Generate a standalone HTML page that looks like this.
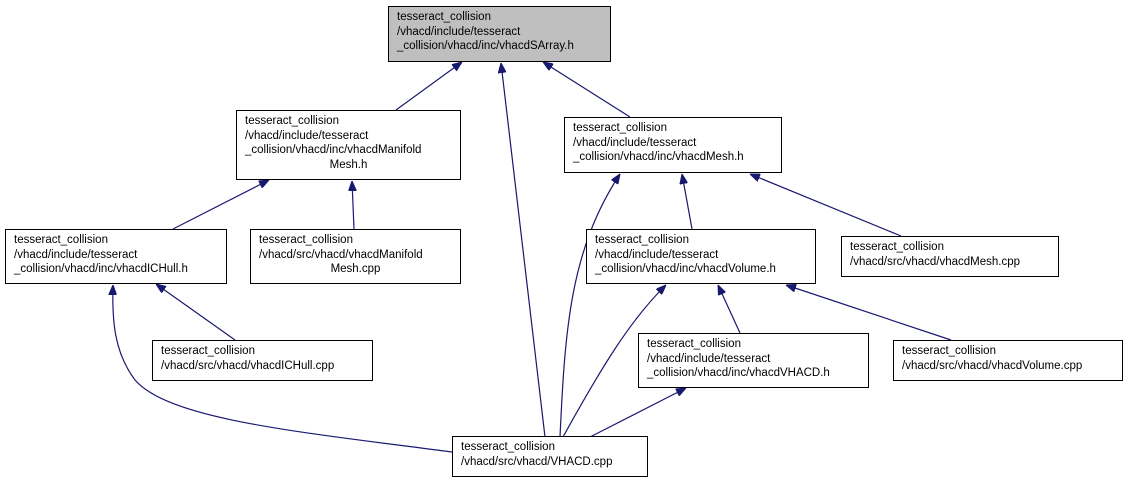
<!DOCTYPE html>
<html><head><meta charset="utf-8"><style>
body{margin:0;width:1128px;height:483px;background:#fff;position:relative;overflow:hidden;font-family:"Liberation Sans",Arial,sans-serif;}
.n{position:absolute;box-sizing:border-box;border:1px solid #000;background:#fff;font-size:11.5px;line-height:14.5px;padding:3px 0 0 8px;color:#000;white-space:nowrap;}
svg{position:absolute;left:0;top:0;}
</style></head><body>
<svg width="1128" height="483">
<defs><marker id="a" markerWidth="10" markerHeight="8" refX="10" refY="4" orient="auto" markerUnits="userSpaceOnUse"><path d="M0,0 L10,4 L0,8 z" fill="#191970" stroke="#191970"/></marker></defs>
<g fill="none" stroke="#191970" stroke-width="1.2" marker-end="url(#a)">
<path d="M396,110 L462,62"/>
<path d="M545,437 L501,63"/>
<path d="M630,117 L543,62"/>
<path d="M173,229 L269,180"/>
<path d="M354,229 L352,181"/>
<path d="M235,340 L156,284"/>
<path d="M452,452 C300,432 170,420 135,380 C114,352 112,320 113,285"/>
<path d="M560,437 C565,330 570,250 620,174"/>
<path d="M692,229 L682,174"/>
<path d="M901,236 L750,174"/>
<path d="M563,437 C600,370 630,320 666,285"/>
<path d="M740,333 L718,285"/>
<path d="M951,340 L786,285"/>
<path d="M590,437 L686,388"/>
</g>
</svg>
<div class="n" style="left:388px;top:6px;width:223px;height:56px;background:#bfbfbf;">tesseract_collision<br>/vhacd/include/tesseract<br>_collision/vhacd/inc/vhacdSArray.h</div>
<div class="n" style="left:236px;top:110px;width:225px;height:70px;">tesseract_collision<br>/vhacd/include/tesseract<br>_collision/vhacd/inc/vhacdManifold<br><span style="display:block;text-align:center;margin-left:-8px">Mesh.h</span></div>
<div class="n" style="left:564px;top:117px;width:218px;height:56px;">tesseract_collision<br>/vhacd/include/tesseract<br>_collision/vhacd/inc/vhacdMesh.h</div>
<div class="n" style="left:5px;top:229px;width:222px;height:55px;">tesseract_collision<br>/vhacd/include/tesseract<br>_collision/vhacd/inc/vhacdICHull.h</div>
<div class="n" style="left:250px;top:229px;width:211px;height:55px;">tesseract_collision<br>/vhacd/src/vhacd/vhacdManifold<br><span style="display:block;text-align:center;margin-left:-8px">Mesh.cpp</span></div>
<div class="n" style="left:586px;top:229px;width:230px;height:55px;">tesseract_collision<br>/vhacd/include/tesseract<br>_collision/vhacd/inc/vhacdVolume.h</div>
<div class="n" style="left:841px;top:236px;width:218px;height:41px;">tesseract_collision<br>/vhacd/src/vhacd/vhacdMesh.cpp</div>
<div class="n" style="left:152px;top:340px;width:221px;height:41px;">tesseract_collision<br>/vhacd/src/vhacd/vhacdICHull.cpp</div>
<div class="n" style="left:638px;top:333px;width:231px;height:55px;">tesseract_collision<br>/vhacd/include/tesseract<br>_collision/vhacd/inc/vhacdVHACD.h</div>
<div class="n" style="left:893px;top:340px;width:230px;height:41px;">tesseract_collision<br>/vhacd/src/vhacd/vhacdVolume.cpp</div>
<div class="n" style="left:452px;top:436px;width:196px;height:41px;">tesseract_collision<br>/vhacd/src/vhacd/VHACD.cpp</div>
</body></html>
